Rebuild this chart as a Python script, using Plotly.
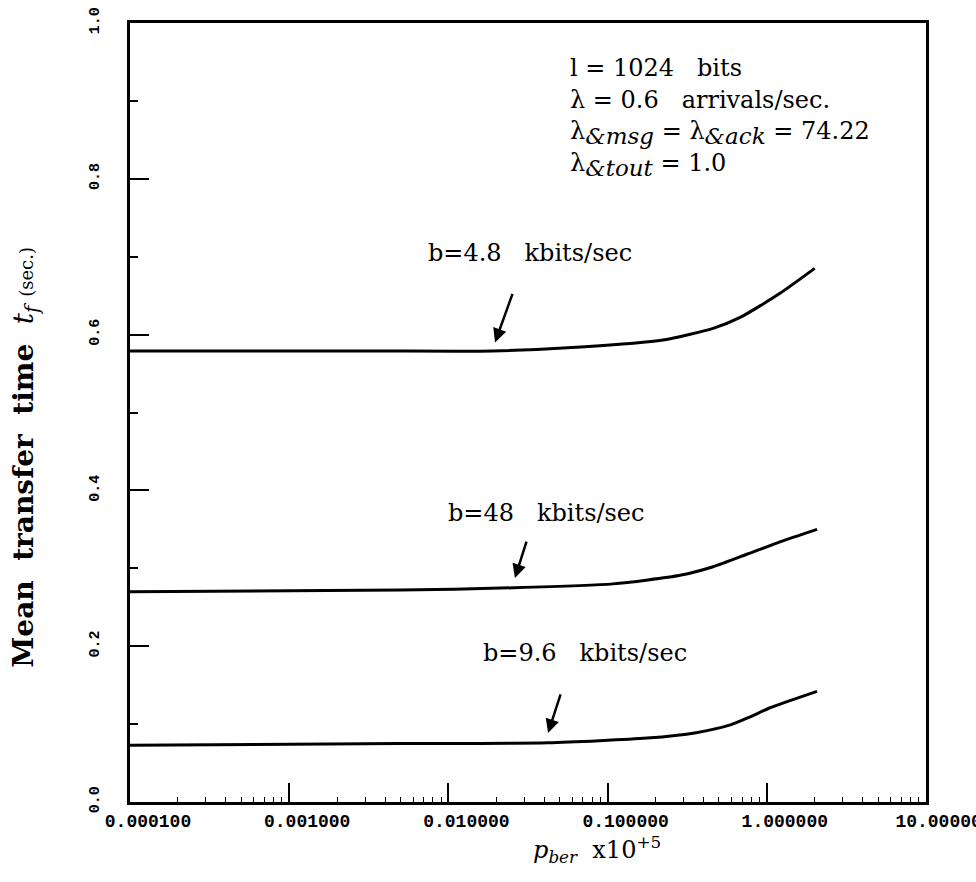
import plotly.graph_objects as go

# ---- data ----
x_b48k = [1e-4, 0.001, 0.0037, 0.019, 0.068, 0.223, 0.46, 0.68, 1.21, 2.0]
y_b48k = [0.579, 0.579, 0.579, 0.579, 0.584, 0.593, 0.608, 0.622, 0.653, 0.685]

x_b48 = [1e-4, 0.005, 0.0255, 0.108, 0.285, 0.46, 0.75, 1.21, 2.07]
y_b48 = [0.270, 0.272, 0.275, 0.280, 0.291, 0.302, 0.318, 0.334, 0.350]

x_b96 = [1e-4, 0.005, 0.042, 0.177, 0.36, 0.59, 0.78, 1.05, 2.07]
y_b96 = [0.073, 0.075, 0.076, 0.082, 0.089, 0.099, 0.109, 0.121, 0.142]

x_tickvals = [1e-4, 1e-3, 1e-2, 1e-1, 1, 10]
x_ticktext = ["0.000100", "0.001000", "0.010000", "0.100000", "1.000000", "10.000000"]
y_tickvals = [0.0, 0.2, 0.4, 0.6, 0.8, 1.0]
y_ticktext = ["0.0", "0.2", "0.4", "0.6", "0.8", "1.0"]

curve_labels = ["b=4.8\u00a0\u00a0 kbits/sec", "b=48\u00a0\u00a0 kbits/sec", "b=9.6\u00a0\u00a0 kbits/sec"]

fig = go.Figure()
for xs, ys in [(x_b48k, y_b48k), (x_b48, y_b48), (x_b96, y_b96)]:
    fig.add_trace(go.Scatter(x=xs, y=ys, mode="lines",
                             line=dict(color="black", width=3, shape="spline", smoothing=0.6),
                             showlegend=False, hoverinfo="skip"))

SERIF = "DejaVu Serif"
MONO = "Liberation Mono"

annotations = []
# curve labels
for txt, lx, ly in zip(curve_labels, [-1.487, -1.381, -1.142], [0.705, 0.371, 0.191]):
    annotations.append(dict(x=lx, y=ly, xref="x", yref="y", text=txt, showarrow=False,
                            font=dict(family=SERIF, size=24, color="black"),
                            xanchor="center", yanchor="middle"))
# arrows
for hx, hy, ax, ay in [(-1.707, 0.590, 18, -50), (-1.582, 0.2875, 12, -38), (-1.374, 0.0886, 13, -40)]:
    annotations.append(dict(x=hx, y=hy, xref="x", yref="y", ax=ax, ay=ay, text="",
                            showarrow=True, arrowhead=2, arrowsize=1.1, arrowwidth=2.5,
                            arrowcolor="black"))

# parameter block
SUB = "<sub><span style='font-size:23px'><i>%s</i></span></sub>"
param_lines = [
    ("l = 1024\u00a0\u00a0\u00a0bits", 0.942),
    ("\u03bb = 0.6\u00a0\u00a0\u00a0arrivals/sec.", 0.901),
    ("\u03bb" + SUB % "&amp;msg" + " = \u03bb" + SUB % "&amp;ack" + " = 74.22", 0.859),
    ("\u03bb" + SUB % "&amp;tout" + " = 1.0", 0.818),
]
for txt, py in param_lines:
    annotations.append(dict(x=0.550, y=py, xref="paper", yref="paper", text=txt,
                            showarrow=False, xanchor="left", yanchor="middle",
                            font=dict(family=SERIF, size=24, color="black")))

# y axis title
annotations.append(dict(
    x=-0.131, y=0.443, xref="paper", yref="paper", textangle=-90, showarrow=False,
    xanchor="center", yanchor="middle",
    text="<b>Mean\u00a0\u00a0transfer\u00a0\u00a0time\u00a0\u00a0</b><i>t<sub>f</sub></i>\u00a0"
         "<span style='font-size:18px'>(sec.)</span>",
    font=dict(family="DejaVu Serif", size=28, color="black")))
# x axis title
annotations.append(dict(
    x=0.587, y=-0.0616, xref="paper", yref="paper", showarrow=False,
    xanchor="center", yanchor="middle",
    text="<i>p</i><sub><i>ber</i></sub>\u00a0\u00a0x10<sup>+5</sup>",
    font=dict(family=SERIF, size=24, color="black")))

fig.update_layout(
    width=976, height=882,
    margin=dict(l=130, r=50, t=23, b=80, autoexpand=False),
    paper_bgcolor="white", plot_bgcolor="white",
    annotations=annotations,
    xaxis=dict(type="log", range=[-4, 1], showgrid=False, zeroline=False, automargin=False,
               showline=True, linewidth=3, linecolor="black", mirror=True,
               ticks="inside", ticklen=19, tickwidth=2, tickcolor="black",
               tickvals=x_tickvals, ticktext=x_ticktext, ticklabelshift=18,
               ticklabeloverflow="allow",
               tickfont=dict(family=MONO, size=18, color="black", weight="bold"),
               minor=dict(ticks="inside", ticklen=5, tickwidth=1, tickcolor="black", dtick="D1")),
    yaxis=dict(range=[0, 1.0], showgrid=False, zeroline=False, automargin=False,
               showline=True, linewidth=3, linecolor="black", mirror=True,
               ticks="inside", ticklen=19, tickwidth=2, tickcolor="black",
               tickvals=y_tickvals, ticktext=y_ticktext, tickangle=-90,
               ticklabelstandoff=22, ticklabeloverflow="allow",
               tickfont=dict(family=MONO, size=15, color="black", weight="bold"),
               minor=dict(ticks="inside", ticklen=8, tickwidth=2, tickcolor="black", dtick=0.1)),
)

fig.write_html("out.html")
